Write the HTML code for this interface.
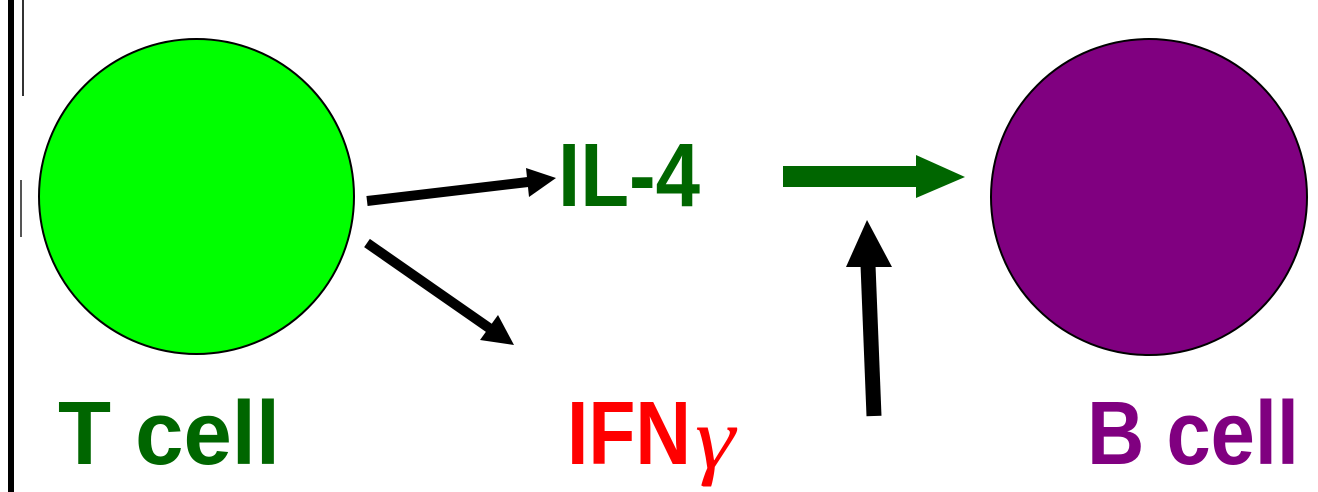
<!DOCTYPE html>
<html><head><style>html,body{margin:0;padding:0;background:#fff;}svg{display:block}</style></head>
<body>
<svg width="1318" height="492" viewBox="0 0 1318 492" xmlns="http://www.w3.org/2000/svg">
<rect x="8" y="0" width="6" height="492" fill="#000"/>
<rect x="22" y="0" width="2" height="96" fill="#333"/>
<rect x="20" y="180" width="2" height="57" fill="#555"/>
<circle cx="196.5" cy="196.5" r="157.5" fill="#00ff00" stroke="#000" stroke-width="2"/>
<circle cx="1149" cy="197" r="158" fill="#800080" stroke="#000" stroke-width="2"/>
<line x1="367" y1="201" x2="528" y2="182" stroke="#000" stroke-width="10"/>
<polygon points="556,178 526,168 529,197" fill="#000"/>
<line x1="367" y1="243" x2="492" y2="330" stroke="#000" stroke-width="10"/>
<polygon points="514,345 498,315 480,340" fill="#000"/>
<rect x="783" y="166" width="134" height="21" fill="#006600"/>
<polygon points="916,155 965,177 916,198" fill="#006600"/>
<line x1="874" y1="416" x2="868" y2="265" stroke="#000" stroke-width="15"/>
<polygon points="867,220 846,267 892,267" fill="#000"/>
<g font-family="Liberation Sans, sans-serif" font-weight="bold" font-size="90">
<text x="558" y="206" fill="#006600" textLength="142" lengthAdjust="spacingAndGlyphs">IL-4</text>
<text x="58" y="464" fill="#006600" textLength="222" lengthAdjust="spacingAndGlyphs">T cell</text>
<text x="567" y="464" fill="#ff0000" textLength="124" lengthAdjust="spacingAndGlyphs">IFN</text>
<text x="1087" y="464" fill="#800080" textLength="212" lengthAdjust="spacingAndGlyphs">B cell</text>
</g>
<text x="695" y="468" fill="#ff0000" font-family="Liberation Serif, serif" font-style="italic" font-size="88" textLength="40" lengthAdjust="spacingAndGlyphs">γ</text>
</svg>
</body></html>
